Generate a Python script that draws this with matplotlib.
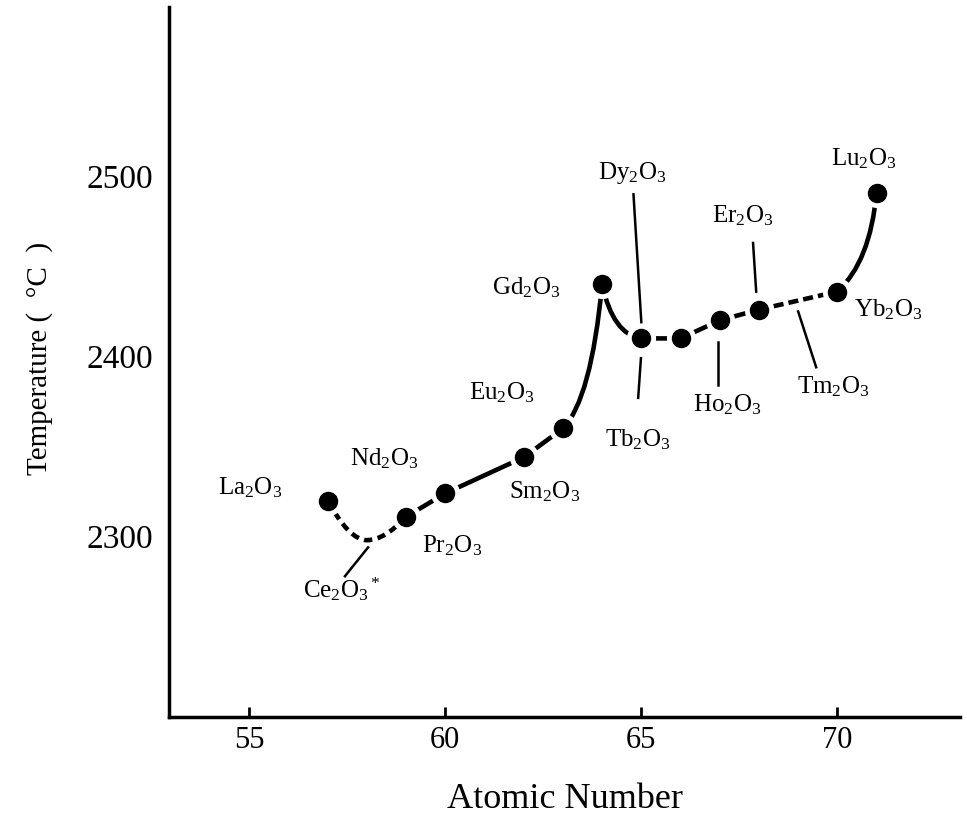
import matplotlib
matplotlib.use('Agg')
import matplotlib.pyplot as plt
from matplotlib.path import Path
from matplotlib.patches import PathPatch

plt.rcParams['font.family'] = ['Liberation Serif', 'DejaVu Serif']
plt.rcParams['mathtext.fontset'] = 'custom'
plt.rcParams['mathtext.rm'] = 'Liberation Serif'
plt.rcParams['mathtext.it'] = 'Liberation Serif:italic'

# melting points of the rare-earth sesquioxides (dots)
oxides = ['La', 'Pr', 'Nd', 'Sm', 'Eu', 'Gd', 'Tb', 'Dy', 'Ho', 'Er', 'Yb', 'Lu']
atomic_number = [57, 59, 60, 62, 63, 64, 65, 66, 67, 68, 70, 71]
melting_point = [2320, 2311, 2324, 2344, 2360, 2440, 2410, 2410, 2420, 2426, 2436, 2491]

# Ce2O3 has no measured dot, only the low point of the curve
ce_number = 58
ce_point = 2298

# label text position and optional leader line (x0, y0, x1, y1)
labels = {
    'La': (55.02, 2327, None),
    'Ce': (57.36, 2271, (58.03, 2294, 57.44, 2278)),
    'Pr': (60.17, 2295, None),
    'Nd': (58.44, 2343, None),
    'Sm': (62.54, 2325, None),
    'Eu': (61.45, 2380, None),
    'Gd': (62.06, 2438, None),
    'Tb': (64.92, 2354, (64.99, 2399, 64.92, 2377)),
    'Dy': (64.76, 2502, (64.80, 2490, 65.00, 2419)),
    'Ho': (67.19, 2373, (66.96, 2408, 66.96, 2384)),
    'Er': (67.59, 2478, (67.85, 2463, 67.93, 2436)),
    'Tm': (69.89, 2383, (69.00, 2425, 69.46, 2394)),
    'Yb': (71.29, 2426, None),
    'Lu': (70.68, 2510, None),
}

pt = dict(zip(oxides, zip(atomic_number, melting_point)))
ce = (ce_number, ce_point)

fig = plt.figure(figsize=(9.67, 8.3), dpi=100)
ax = fig.add_axes([0.1751, 0.1365, 0.8177, 0.8551])

LW = 3.3


def add_path(verts, codes, **kw):
    patch = PathPatch(Path(verts, codes), fill=False, lw=LW, color='black',
                      capstyle='butt', joinstyle='round', zorder=2, **kw)
    ax.add_patch(patch)


def ctrl(a, b, fx, fy):
    return (a[0] + fx * (b[0] - a[0]), a[1] + fy * (b[1] - a[1]))


M, L, C = Path.MOVETO, Path.LINETO, Path.CURVE3

# La -> Ce minimum -> Pr, short dashes
add_path([pt['La'], (ce[0] - 0.45, ce[1]), ce, (ce[0] + 0.45, ce[1]), pt['Pr']],
         [M, C, C, C, C], linestyle=(0, (1.8, 1.2)))

# Pr ... Er, broken by the gaps around the dots, with the Gd peak
add_path([pt['Pr'], pt['Nd'], pt['Sm'], pt['Eu'],
          ctrl(pt['Eu'], pt['Gd'], 0.72, 0.2), pt['Gd'],
          (pt['Gd'][0] + 0.28, pt['Tb'][1] + 2), pt['Tb'],
          pt['Dy'], pt['Ho'], pt['Er']],
         [M, L, L, L, C, C, C, C, L, L, L])

# Er -> Yb dashed
add_path([pt['Er'], pt['Yb']], [M, L], linestyle=(0, (2.2, 1.1)))

# Yb -> Lu upturn
add_path([pt['Yb'], ctrl(pt['Yb'], pt['Lu'], 0.84, 0.3), pt['Lu']], [M, C, C])

# white halo then black dot
ax.plot(atomic_number, melting_point, 'o', ms=20, color='white', zorder=3)
ax.plot(atomic_number, melting_point, 'o', ms=13, color='black', zorder=4)

for name, (tx, ty, leader) in labels.items():
    text = name + '$_2$O$_3$'
    if name == 'Ce':
        text += '$^*$'
    ax.text(tx, ty, text, fontsize=18, ha='center', va='center', zorder=5)
    if leader is not None:
        x0, y0, x1, y1 = leader
        ax.plot([x0, x1], [y0, y1], color='black', lw=1.8, zorder=1)

ax.set_xlim(52.96, 73.13)
ax.set_ylim(2200, 2594)
ax.set_xticks([55, 60, 65, 70])
ax.set_yticks([2300, 2400, 2500])
ax.tick_params(axis='x', direction='in', length=7, width=2, labelsize=22, pad=7)
ax.tick_params(axis='y', length=0, labelsize=24, pad=12)

for side in ['top', 'right']:
    ax.spines[side].set_visible(False)
for side in ['left', 'bottom']:
    ax.spines[side].set_linewidth(2.5)

ax.set_xlabel('Atomic Number', fontsize=26, va='center')
ax.xaxis.set_label_coords(0.5, -0.117)
ax.set_ylabel('Temperature (  °C  )', fontsize=21, va='center')
ax.yaxis.set_label_coords(-0.164, 0.505)

fig.savefig('out.png', dpi=100)
